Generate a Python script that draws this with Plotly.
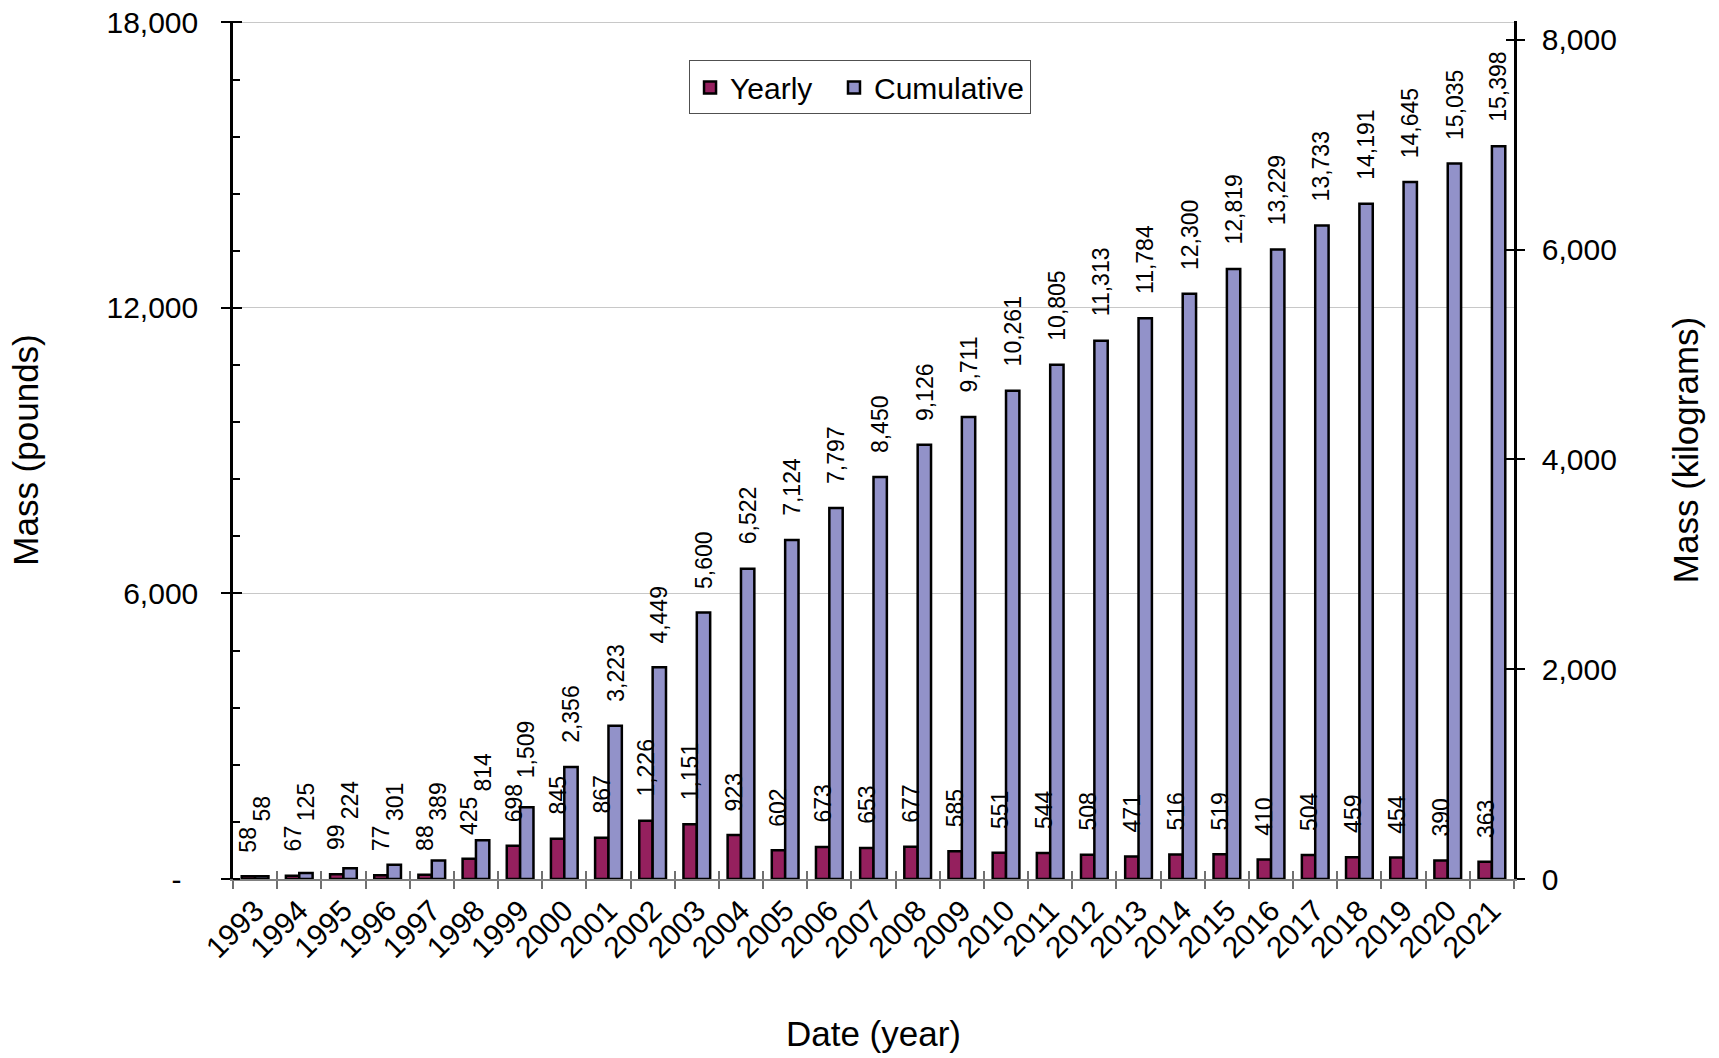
import plotly.graph_objects as go

years = [str(y) for y in range(1993, 2022)]
yearly = [58, 67, 99, 77, 88, 425, 698, 845, 867, 1226, 1151, 923, 602, 673, 653,
          677, 585, 551, 544, 508, 471, 516, 519, 410, 504, 459, 454, 390, 363]
cumulative = [58, 125, 224, 301, 389, 814, 1509, 2356, 3223, 4449, 5600, 6522, 7124,
              7797, 8450, 9126, 9711, 10261, 10805, 11313, 11784, 12300, 12819, 13229,
              13733, 14191, 14645, 15035, 15398]
lb_ticks = [0, 6000, 12000, 18000]
lb_ticktext = ["-\u00a0\u00a0", "6,000", "12,000", "18,000"]
kg_ticks = [0, 2000, 4000, 6000, 8000]
kg_ticktext = ["0", "2,000", "4,000", "6,000", "8,000"]
LB_MAX = 18030
LB_TO_KG = 0.45359237

FONT = "Arial, Liberation Sans, sans-serif"
C_YEAR = "#95205E"
C_CUM = "#9292C9"
BARGAP = 0.395
w = (1 - BARGAP) / 2
cum_kg = [c * LB_TO_KG for c in cumulative]

W, H = 1719, 1058
MT, MB, ML, MR = 21, 179, 233, 205
plot_h = H - MT - MB
ppl = plot_h / LB_MAX          # pixels per pound
LABEL_SIZE = 23
GAP = 22                       # label offset above bar top (px)


def text_len(s):
    return sum(0.278 if ch == "," else 0.556 for ch in s) * LABEL_SIZE


fig = go.Figure()
fig.add_trace(go.Bar(x=years, y=yearly, name="Yearly\u00a0\u00a0",
                     marker=dict(color=C_YEAR, line=dict(color="black", width=2.5))))
fig.add_trace(go.Bar(x=years, y=cumulative, name="Cumulative",
                     marker=dict(color=C_CUM, line=dict(color="black", width=2.5))))

# invisible helper traces so the overlay axes (right kg scale, crossing ticks) are drawn
helper = dict(mode="none", showlegend=False, hoverinfo="skip")
fig.add_trace(go.Scatter(x=list(range(len(years))), y=yearly, xaxis="x2", yaxis="y", **helper))
fig.add_trace(go.Scatter(x=years, y=cumulative, yaxis="y3", **helper))
fig.add_trace(go.Scatter(x=years, y=cum_kg, yaxis="y2", **helper))
fig.add_trace(go.Scatter(x=years, y=cum_kg, yaxis="y4", **helper))

annotations = []
lab_font = dict(family=FONT, size=LABEL_SIZE, color="black")
for i, (yv, cv) in enumerate(zip(yearly, cumulative)):
    ytxt, ctxt = f"{yv:,}", f"{cv:,}"
    annotations.append(dict(x=i - w / 2, y=yv, xref="x", yref="y", text=ytxt,
                            textangle=-90, showarrow=False, xanchor="center",
                            yanchor="bottom", yshift=GAP, font=lab_font))
    # like the original, lift a cumulative label that would collide with its yearly label
    yearly_top = yv * ppl + GAP + 2 + text_len(ytxt) + 2
    cshift = max(GAP, yearly_top + 1 - cv * ppl)
    annotations.append(dict(x=i + w / 2, y=cv, xref="x", yref="y", text=ctxt,
                            textangle=-90, showarrow=False, xanchor="center",
                            yanchor="bottom", yshift=cshift, font=lab_font))

fig.update_layout(
    width=W, height=H,
    margin=dict(l=ML, r=MR, t=MT, b=MB),
    paper_bgcolor="white", plot_bgcolor="white",
    barmode="group", bargap=BARGAP, bargroupgap=0,
    font=dict(family=FONT, size=30, color="black"),
    annotations=annotations,
    showlegend=True,
    legend=dict(orientation="h", x=0.356, y=0.954, xanchor="left", yanchor="top",
                bordercolor="#505050", borderwidth=1, bgcolor="white",
                font=dict(family=FONT, size=30)),
    xaxis=dict(type="category", categoryorder="array", categoryarray=years,
               range=[-0.5, len(years) - 0.5], tickangle=-45, automargin=False,
               ticks="outside", tickson="boundaries", ticklen=8, tickcolor="#707070",
               tickwidth=1.5, showline=True, linecolor="#808080", linewidth=2,
               showgrid=False, zeroline=False,
               tickfont=dict(family=FONT, size=30),
               title=dict(text="Date (year)", font=dict(family=FONT, size=35), standoff=58)),
    xaxis2=dict(overlaying="x", anchor="y", side="bottom", range=[-0.5, len(years) - 0.5],
                tickmode="linear", tick0=-0.5, dtick=1, ticks="inside", ticklen=8,
                tickcolor="#707070", tickwidth=1.5, showticklabels=False, showgrid=False,
                zeroline=False, showline=False, automargin=False),
    yaxis=dict(range=[0, LB_MAX], tickmode="array", tickvals=lb_ticks, ticktext=lb_ticktext,
               ticks="outside", ticklen=9, tickwidth=2, tickcolor="black", automargin=False,
               minor=dict(ticks="inside", dtick=1200, tick0=0, ticklen=7, tickwidth=2,
                          tickcolor="black", showgrid=False),
               showline=True, linecolor="black", linewidth=2.5,
               showgrid=True, gridcolor="#c8c8c8", gridwidth=1, zeroline=False,
               ticklabelstandoff=17,
               tickfont=dict(family=FONT, size=30),
               title=dict(text="Mass (pounds)", font=dict(family=FONT, size=35), standoff=58)),
    yaxis3=dict(overlaying="y", anchor="x", side="left", range=[0, LB_MAX],
                tickmode="array", tickvals=lb_ticks, ticks="inside", ticklen=9, tickwidth=2,
                tickcolor="black", showticklabels=False, showgrid=False, zeroline=False,
                showline=False, automargin=False),
    yaxis2=dict(overlaying="y", anchor="x", side="right", range=[0, LB_MAX * LB_TO_KG],
                tickmode="array", tickvals=kg_ticks, ticktext=kg_ticktext,
                ticks="outside", ticklen=8, tickwidth=2, tickcolor="black",
                showline=True, linecolor="black", linewidth=2.5, showgrid=False,
                zeroline=False, ticklabelstandoff=11, automargin=False,
                tickfont=dict(family=FONT, size=30),
                title=dict(text="Mass (kilograms)", font=dict(family=FONT, size=35), standoff=58)),
    yaxis4=dict(overlaying="y", anchor="x", side="right", range=[0, LB_MAX * LB_TO_KG],
                tickmode="array", tickvals=kg_ticks, ticks="inside", ticklen=8, tickwidth=2,
                tickcolor="black", showticklabels=False, showgrid=False, zeroline=False,
                showline=False, automargin=False),
)

fig.write_html("out.html")
